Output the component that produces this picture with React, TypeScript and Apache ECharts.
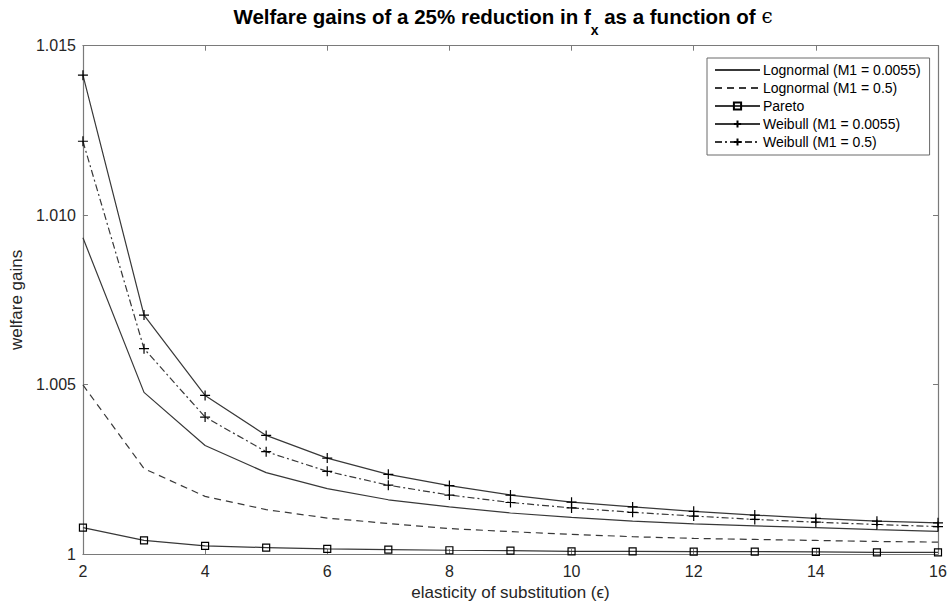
import React, { useEffect, useRef } from "react";
import * as echarts from "echarts";

const elasticity = [2, 3, 4, 5, 6, 7, 8, 9, 10, 11, 12, 13, 14, 15, 16];
const lognormalSmall = [1.00933, 1.00477, 1.0032, 1.0024, 1.00193, 1.0016, 1.00139, 1.00121, 1.00108, 1.00097, 1.00089, 1.00083, 1.00078, 1.00072, 1.00067];
const lognormalLarge = [1.00499, 1.00252, 1.0017, 1.00131, 1.00106, 1.0009, 1.00075, 1.00066, 1.00058, 1.00051, 1.00046, 1.00043, 1.0004, 1.00037, 1.00035];
const pareto = [1.00078, 1.0004, 1.00024, 1.00019, 1.00015, 1.00013, 1.00011, 1.0001, 1.00008, 1.00008, 1.00007, 1.00007, 1.00006, 1.00005, 1.00005];
const weibullSmall = [1.01413, 1.00705, 1.00468, 1.0035, 1.00283, 1.00235, 1.00202, 1.00174, 1.00153, 1.00139, 1.00126, 1.00115, 1.00105, 1.00097, 1.00092];
const weibullLarge = [1.01218, 1.00606, 1.00404, 1.00302, 1.00244, 1.00203, 1.00174, 1.00152, 1.00136, 1.00123, 1.00112, 1.00102, 1.00094, 1.00087, 1.00081];

const seriesNames = [
  "Lognormal (M1 = 0.0055)",
  "Lognormal (M1 = 0.5)",
  "Pareto",
  "Weibull (M1 = 0.0055)",
  "Weibull (M1 = 0.5)",
];
const xTitle = "elasticity of substitution (\u03F5)";
const yTitle = "welfare gains";

const FONT = "'Liberation Sans', Arial, Helvetica, sans-serif";
const LINE = "#383838";
const AXIS = "#7a7a7a";
const TEXT = "#262626";
const PLUS = "path://M0,5L10,5M5,0L5,10";
const HIDDEN = { color: "rgba(0,0,0,0)", borderColor: "rgba(0,0,0,0)", borderWidth: 0 };
const OPEN = { color: "rgba(0,0,0,0)", borderColor: "#000", borderWidth: 1.2 };

const pairs = (ys: number[]) => elasticity.map((x, i) => [x, ys[i]]);

export default function App() {
  const ref = useRef<HTMLDivElement>(null);
  useEffect(() => {
    if (!ref.current) return;
    const chart = echarts.init(ref.current, null, { renderer: "svg" });
    const axisCommon = {
      axisLine: { show: true, onZero: false, lineStyle: { color: AXIS, width: 1.2 } },
      axisTick: { show: true, inside: true, length: 5, lineStyle: { color: AXIS, width: 1 } },
      splitLine: { show: false },
    };
    const baseLine = (name: string, ys: number[], type: any, extra: any = {}) => ({
      name,
      type: "line",
      data: pairs(ys),
      showSymbol: false,
      symbol: "circle",
      lineStyle: { color: LINE, width: 1.2, type },
      itemStyle: HIDDEN,
      emphasis: { disabled: true },
      z: 3,
      ...extra,
    });
    chart.setOption({
      animation: false,
      grid: { left: 76.5, right: 12, top: 45.7, bottom: 44.3, containLabel: false },
      xAxis: [
        {
          type: "value",
          min: 2,
          max: 16,
          interval: 2,
          position: "bottom",
          ...axisCommon,
          axisLabel: { color: TEXT, fontSize: 16, fontFamily: FONT, margin: 9 },
          name: xTitle,
          nameLocation: "middle",
          nameGap: 30,
          nameTextStyle: { color: TEXT, fontSize: 17, fontFamily: FONT },
        },
        {
          type: "value",
          min: 2,
          max: 16,
          interval: 2,
          position: "top",
          ...axisCommon,
          axisLabel: { show: false },
        },
      ],
      yAxis: [
        {
          type: "value",
          min: 1,
          max: 1.015,
          interval: 0.005,
          position: "left",
          ...axisCommon,
          axisLabel: {
            color: TEXT,
            fontSize: 16,
            fontFamily: FONT,
            margin: 7,
            formatter: (v: number) => (Math.abs(v - 1) < 1e-9 ? "1" : v.toFixed(3)),
          },
          name: yTitle,
          nameLocation: "middle",
          nameGap: 45,
          nameTextStyle: { color: TEXT, fontSize: 17, fontFamily: FONT },
        },
        {
          type: "value",
          min: 1,
          max: 1.015,
          interval: 0.005,
          position: "right",
          ...axisCommon,
          axisLabel: { show: false },
        },
      ],
      legend: {
        left: 707,
        top: 58,
        orient: "vertical",
        backgroundColor: "#ffffff",
        borderColor: "#6a6a6a",
        borderWidth: 1,
        padding: [5, 9, 6, 7],
        itemWidth: 45,
        itemHeight: 9,
        itemGap: 4,
        textStyle: { color: "#000", fontSize: 14, fontFamily: FONT, lineHeight: 14, padding: [0, 0, 0, -2] },
        data: seriesNames,
      },
      graphic: [
        {
          type: "text",
          x: 503,
          y: 6,
          style: {
            text: "{t|Welfare gains of a 25% reduction in f}{s|x}{t| as a function of }{e|\u03F5}",
            align: "center",
            verticalAlign: "top",
            rich: {
              t: { fontSize: 20.5, fontWeight: "bold", fontFamily: FONT, fill: "#000", lineHeight: 24, verticalAlign: "top" },
              s: { fontSize: 14, fontWeight: "bold", fontFamily: FONT, fill: "#000", padding: [17, 0, 0, 0], verticalAlign: "top" },
              e: { fontSize: 20, fontFamily: "'DejaVu Serif', serif", fill: "#000", lineHeight: 24, verticalAlign: "top" },
            },
          },
        },
      ],
      series: [
        baseLine(seriesNames[0], lognormalSmall, "solid"),
        baseLine(seriesNames[1], lognormalLarge, [7, 5]),
        baseLine(seriesNames[2], pareto, "solid", {
          showSymbol: true,
          symbol: "rect",
          symbolSize: 7,
          itemStyle: OPEN,
        }),
        baseLine(seriesNames[3], weibullSmall, "solid", {
          showSymbol: true,
          symbol: PLUS,
          symbolSize: 10,
          itemStyle: OPEN,
        }),
        baseLine(seriesNames[4], weibullLarge, [7, 3, 2, 3], {
          showSymbol: true,
          symbol: PLUS,
          symbolSize: 10,
          itemStyle: OPEN,
        }),
      ],
    });
    return () => chart.dispose();
  }, []);
  return (
    <div
      ref={ref}
      style={{ position: "fixed", left: 0, top: 0, width: 950, height: 606, background: "#fff" }}
    />
  );
}
